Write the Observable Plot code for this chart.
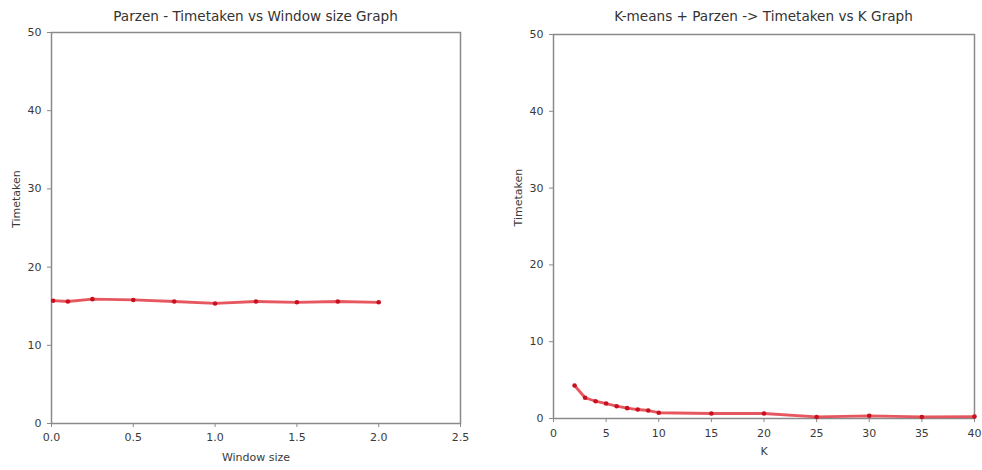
<!DOCTYPE html>
<html>
<head>
<meta charset="utf-8">
<script src="https://cdn.jsdelivr.net/npm/d3@7"></script>
<script src="https://cdn.jsdelivr.net/npm/@observablehq/plot@0.6"></script>
<style>
  html, body { margin: 0; padding: 0; background: #fff; }
  #root { position: relative; width: 982px; height: 470px; overflow: hidden; font-family: "DejaVu Sans", sans-serif; }
  .panel { position: absolute; top: 0; }
  .title { position: absolute; top: 0; height: 24px; line-height: 32px; font-size: 13.6px; color: #333; white-space: nowrap; transform: translateX(-50%); }
  .panel svg { position: absolute; top: 24px; left: 0; }
</style>
</head>
<body>
<div id="root"></div>
<script>
// Left chart: Parzen — time taken vs window size
const windowSizes = [0.01, 0.1, 0.25, 0.5, 0.75, 1.0, 1.25, 1.5, 1.75, 2.0];
const parzenTime  = [15.7, 15.6, 15.9, 15.8, 15.6, 15.35, 15.6, 15.5, 15.6, 15.5];
const windowTicks = [0, 0.5, 1.0, 1.5, 2.0, 2.5];

// Right chart: K-means + Parzen — time taken vs K
const kValues = [2, 3, 4, 5, 6, 7, 8, 9, 10, 15, 20, 25, 30, 35, 40];
const kmeansTime = [4.3, 2.7, 2.25, 1.95, 1.6, 1.35, 1.17, 1.04, 0.75, 0.65, 0.65, 0.2, 0.35, 0.2, 0.25];
const kTicks = [0, 5, 10, 15, 20, 25, 30, 35, 40];

const yTicks = [0, 10, 20, 30, 40, 50];

const leftTitle = "Parzen - Timetaken vs Window size Graph";
const rightTitle = "K-means + Parzen -> Timetaken vs K Graph";
const leftXLabel = "Window size";
const rightXLabel = "K";
const yLabel = "Timetaken";

const lineColor = "#e23a44";
const dotColor = "#c8101e";
const frameColor = "#8a8a8a";
const textColor = "#3a3a3a";

function makePanel({left, width, xs, ys, xDomain, xTicks, xFormat, xLabel, title, margins, xPad, yLabelOffset, xLabelOffset}) {
  const data = xs.map((x, i) => ({x, y: ys[i]}));
  const panel = document.createElement("div");
  panel.className = "panel";
  panel.style.left = left + "px";
  panel.style.width = width + "px";
  panel.style.height = "470px";

  const svg = Plot.plot({
    width,
    height: 446,
    marginLeft: margins[0],
    marginRight: margins[1],
    marginTop: margins[2],
    marginBottom: margins[3],
    style: {fontFamily: "DejaVu Sans, sans-serif", fontSize: "11px", color: textColor, background: "white"},
    x: {domain: xDomain, ticks: xTicks, tickFormat: xFormat, label: null},
    y: {domain: [0, 50], ticks: yTicks, label: null},
    marks: [
      Plot.axisX({ticks: xTicks, tickFormat: xFormat, tickSize: 4, tickPadding: xPad, label: null, stroke: frameColor, fill: textColor}),
      Plot.axisY({ticks: yTicks, tickSize: 4, tickPadding: 6, label: null, stroke: frameColor, fill: textColor}),
      Plot.frame({stroke: frameColor, strokeWidth: 1.5}),
      Plot.line(data, {x: "x", y: "y", stroke: lineColor, strokeWidth: 2.8, strokeOpacity: 0.85}),
      Plot.dot(data, {x: "x", y: "y", r: 2.3, fill: dotColor, stroke: "none"}),
      Plot.text([xLabel], {frameAnchor: "bottom", dy: xLabelOffset, text: d => d, fill: textColor, fontSize: 11}),
      Plot.text([yLabel], {frameAnchor: "left", dx: -yLabelOffset, rotate: -90, text: d => d, fill: textColor, fontSize: 11})
    ]
  });
  panel.appendChild(svg);

  const t = document.createElement("div");
  t.className = "title";
  t.textContent = title;
  t.style.left = (margins[0] + (width - margins[0] - margins[1]) / 2) + "px";
  panel.appendChild(t);
  return panel;
}

const root = document.getElementById("root");
root.appendChild(makePanel({
  left: 0, width: 490, xs: windowSizes, ys: parzenTime,
  xDomain: [0, 2.5], xTicks: windowTicks, xFormat: d3.format(".1f"),
  xLabel: leftXLabel, title: leftTitle,
  margins: [51, 30, 8, 47], xPad: 6, yLabelOffset: 35, xLabelOffset: 37
}));
root.appendChild(makePanel({
  left: 490, width: 492, xs: kValues, ys: kmeansTime,
  xDomain: [0, 40], xTicks: kTicks, xFormat: d3.format("d"),
  xLabel: rightXLabel, title: rightTitle,
  margins: [63, 8, 10, 52], xPad: 7, yLabelOffset: 35, xLabelOffset: 36
}));
</script>
</body>
</html>
